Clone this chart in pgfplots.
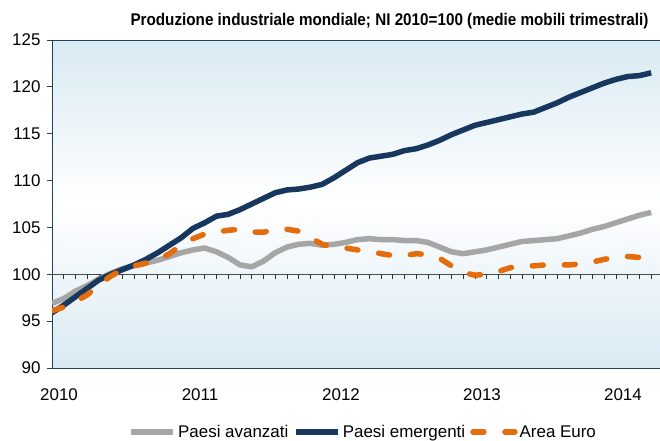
\documentclass[border=0pt]{standalone}
\usepackage{fontspec}
\setmainfont{Liberation Sans}
\newfontfamily\titlefont{Liberation Sans}[FakeStretch=0.9]
\usepackage{pgfplots}
\usepackage{pgfplotstable}
\pgfplotsset{compat=1.18}
\definecolor{navy}{HTML}{17375E}
\definecolor{grigio}{HTML}{A6A6A6}
\definecolor{arancio}{HTML}{E46C0A}
\definecolor{fondo}{HTML}{D9EAF3}
\definecolor{asse}{HTML}{243F60}

% mesi da gen 2010 (0) ad apr 2014 (51)
\pgfplotstableread{
m  av    em    eu
0  96.9  95.9  96.1
1  97.4  96.7  96.5
2  98.2  97.6  97.1
3  98.8  98.5  97.8
4  99.5  99.4  98.9
5  100.1 100.0 99.8
6  100.6 100.5 100.5
7  100.9 101.0 100.9
8  101.2 101.6 101.2
9  101.5 102.3 101.5
10 101.9 103.1 102.2
11 102.3 103.9 103.1
12 102.6 104.9 103.8
13 102.8 105.5 104.3
14 102.4 106.2 104.5
15 101.8 106.4 104.7
16 101.0 106.9 104.8
17 100.8 107.5 104.5
18 101.4 108.1 104.5
19 102.3 108.7 104.7
20 102.9 109.0 104.8
21 103.2 109.1 104.6
22 103.3 109.3 103.9
23 103.1 109.6 103.2
24 103.2 110.3 102.9
25 103.4 111.1 102.8
26 103.7 111.9 102.6
27 103.8 112.4 102.5
28 103.7 112.6 102.2
29 103.7 112.8 102.0
30 103.6 113.2 102.0
31 103.6 113.4 102.2
32 103.4 113.8 102.1
33 102.9 114.3 101.7
34 102.4 114.9 100.9
35 102.2 115.4 100.2
36 102.4 115.9 99.9
37 102.6 116.2 100.0
38 102.9 116.5 100.3
39 103.2 116.8 100.7
40 103.5 117.1 100.9
41 103.6 117.3 100.9
42 103.7 117.8 101.0
43 103.8 118.3 101.0
44 104.1 118.9 101.0
45 104.4 119.4 101.1
46 104.8 119.9 101.3
47 105.1 120.4 101.6
48 105.5 120.8 101.8
49 105.9 121.1 101.9
50 106.3 121.2 101.8
51 106.6 121.5 101.7
}\dati

\begin{document}
\begin{tikzpicture}
\useasboundingbox (-52bp,-73bp) rectangle (608bp,368bp);
\begin{axis}[
  scale only axis,
  width=608bp, height=328bp,
  xmin=0, xmax=51.75,
  ymin=90, ymax=125,
  ytick={90,95,...,125},
  xtick={0.6,12.6,24.6,36.6,48.6},
  xticklabels={2010,2011,2012,2013,2014},
  xtick style={draw=none},
  ytick style={draw=asse, line width=0.8bp},
  tick align=outside,
  major tick length=5bp,
  /pgf/number format/assume math mode=true,
  tick label style={font=\fontsize{17}{20}\selectfont},
  yticklabel style={xshift=-3bp},
  xticklabel style={yshift=-12bp},
  axis line style={draw=asse, line width=1bp},
  axis background/.style={top color=fondo, bottom color=fondo, middle color=white},
  title={\titlefont\bfseries Produzione industriale mondiale; NI 2010=100 (medie mobili trimestrali)},
  title style={at={(1,1)}, anchor=base east, xshift=-8bp, yshift=9bp,
    font=\fontsize{17}{20}\selectfont},
  legend style={at={(0.512,-0.195)}, anchor=center, draw=none, fill=none,
    font=\fontsize{17}{20}\selectfont, legend columns=3,
    /tikz/every even column/.append style={column sep=3bp}},
  legend cell align=left,
  legend image code/.code={\draw[#1] (0bp,0bp) -- (42bp,0bp);},
]
\draw[black!70, line width=0.9bp] (axis cs:0,100) -- (axis cs:51.75,100);
\pgfplotsinvokeforeach{1,...,51}{
  \draw[black!80, line width=0.8bp] (axis cs:#1,100) -- ++(0pt,-5bp);
}
\addplot[grigio, line width=5.5bp, line join=round] table[x=m, y=av] {\dati};
\addplot[navy, line width=5.5bp, line join=round] table[x=m, y=em] {\dati};
\addplot[arancio, line width=5.5bp, line cap=round, dash pattern=on 11bp off 21bp] table[x=m, y=eu] {\dati};
\legend{Paesi avanzati, Paesi emergenti, Area Euro}
\end{axis}
\end{tikzpicture}
\end{document}
